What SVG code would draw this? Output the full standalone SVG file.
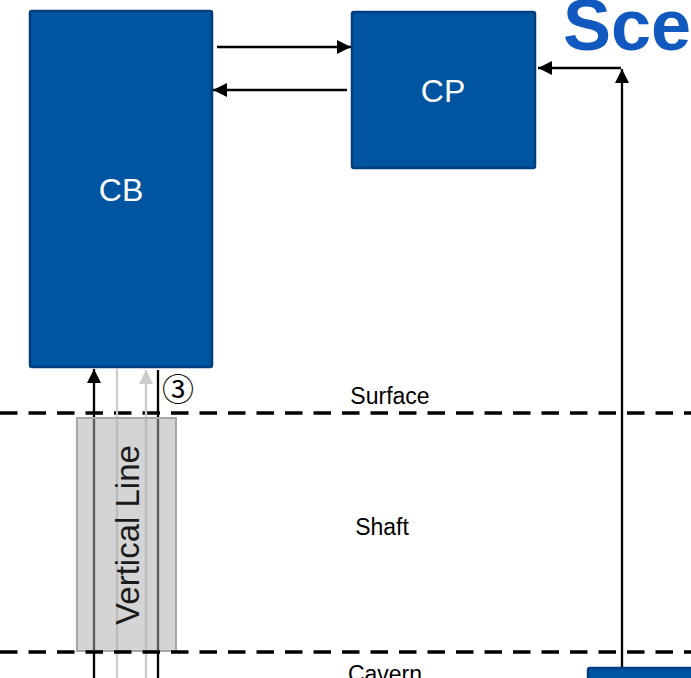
<svg xmlns="http://www.w3.org/2000/svg" width="691" height="678" viewBox="0 0 691 678">
<style>
.node{fill:#0055A0;stroke:#003F7C;stroke-width:2.5}
.nl{font-family:"Liberation Sans",Arial,sans-serif;fill:#fff;text-anchor:middle}
.lbl{font-family:"Liberation Sans",Arial,sans-serif;fill:#000;font-size:23px;text-anchor:middle}
.dash{stroke:#000;stroke-width:3.5;stroke-dasharray:17.5 11}
.ar{stroke:#000;stroke-width:2.3;fill:none}
</style>
<defs>
<marker id="ahk" viewBox="0 0 10 10" refX="10" refY="5" markerWidth="15" markerHeight="14" markerUnits="userSpaceOnUse" orient="auto">
<path d="M0,0 L10,5 L0,10 z" fill="#000"/>
</marker>
<marker id="ahg" viewBox="0 0 10 10" refX="10" refY="5" markerWidth="15" markerHeight="14" markerUnits="userSpaceOnUse" orient="auto">
<path d="M0,0 L10,5 L0,10 z" fill="#CCCCCC"/>
</marker>
</defs>
<text x="563" y="50" font-family="'Liberation Sans',Arial,sans-serif" font-weight="bold" font-size="72" fill="#1159BF">Sce</text>
<g id="boundaries">
<line class="dash" x1="0" y1="413" x2="691" y2="413"/>
<text class="lbl" x="390" y="404">Surface</text>
<text class="lbl" x="382" y="535">Shaft</text>
<text class="lbl" x="385" y="682">Cavern</text>
</g>
<g id="connectors">
<line class="ar" x1="217" y1="47" x2="351" y2="47" marker-end="url(#ahk)"/>
<line class="ar" x1="347" y1="90" x2="213" y2="90" marker-end="url(#ahk)"/>
<line class="ar" x1="622" y1="668" x2="622" y2="69" marker-end="url(#ahk)"/>
<line class="ar" x1="621" y1="68" x2="538" y2="68" marker-end="url(#ahk)"/>
<line class="ar" x1="94" y1="678" x2="94" y2="369" marker-end="url(#ahk)"/>
<line x1="117" y1="678" x2="117" y2="369" stroke="#CCCCCC" stroke-width="2.3"/>
<line x1="146" y1="678" x2="146" y2="370" stroke="#CCCCCC" stroke-width="2.3" marker-end="url(#ahg)"/>
<line class="ar" x1="158" y1="678" x2="158" y2="370"/>
</g>
<g id="vertical-line">
<rect x="77" y="418" width="99" height="233" fill="#ADADAD" fill-opacity="0.52" stroke="#A6A6A6" stroke-width="2"/>
<text x="0" y="0" transform="translate(139,535) rotate(-90)" font-family="'Liberation Sans',Arial,sans-serif" font-size="33" fill="#1a1a1a" text-anchor="middle">Vertical Line</text>
</g>
<line class="dash" x1="0" y1="652" x2="691" y2="652"/>
<g id="CB">
<rect class="node" x="30" y="11" width="182" height="356" rx="2"/>
<text class="nl" x="121" y="201" font-size="32">CB</text>
</g>
<g id="CP">
<rect class="node" x="352" y="12" width="183" height="156" rx="2"/>
<text class="nl" x="443" y="102" font-size="32">CP</text>
</g>
<g id="bottom-node">
<rect class="node" x="588" y="668" width="110" height="30" rx="2"/>
</g>
<text x="178" y="401" font-family="'Noto Sans CJK SC','DejaVu Sans',sans-serif" font-size="32" text-anchor="middle" fill="#000">③</text>
</svg>
